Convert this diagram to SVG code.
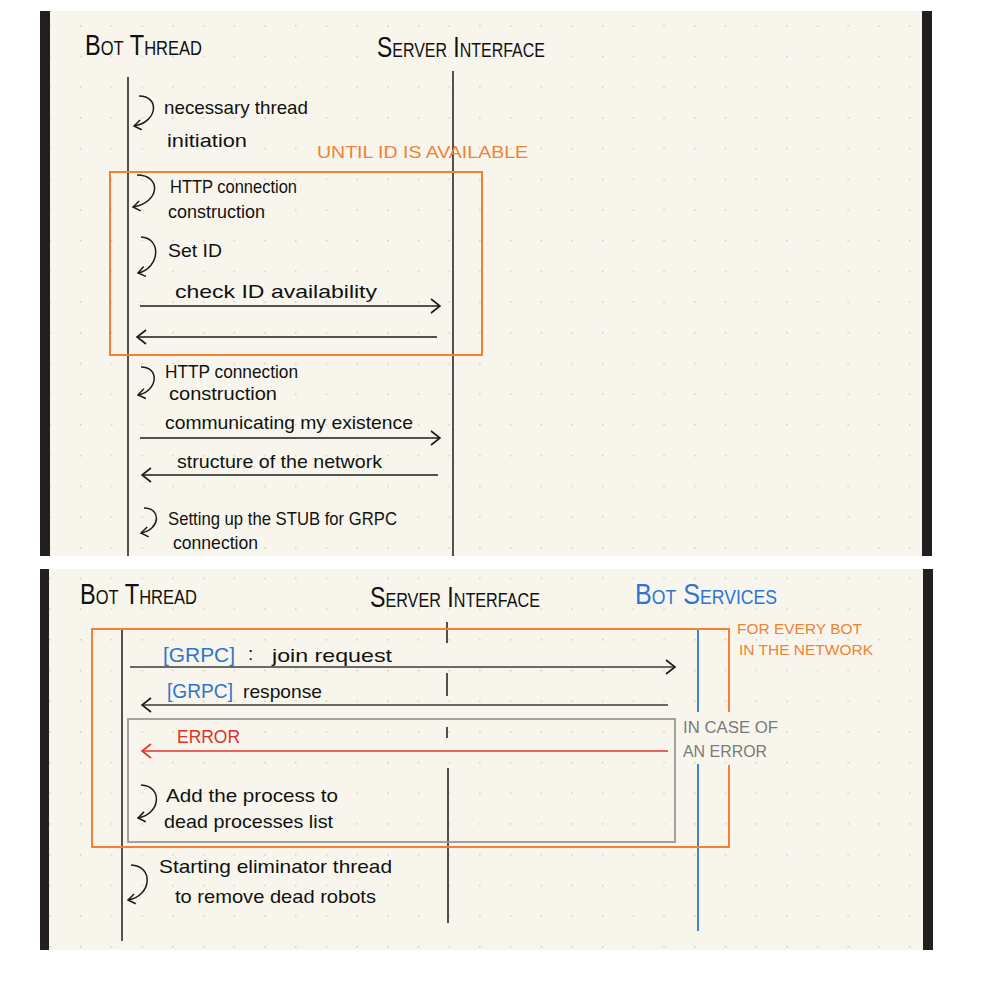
<svg xmlns="http://www.w3.org/2000/svg" width="1000" height="1000" viewBox="0 0 1000 1000">
<defs>
<style>
.paper{fill:#F8F6EC}
.bar{fill:#231F20}
.life{stroke:#1a1a1a;stroke-width:1.5;fill:none}
.msg{stroke:#1a1a1a;stroke-width:1.5;fill:none}
.msg2{stroke:#3a3a3a;stroke-width:1.5;fill:none}
.err{stroke:#E0302A;stroke-width:1.5;fill:none}
.loop{stroke:#1a1a1a;stroke-width:1.5;fill:none}
.frameO{stroke:#F08232;stroke-width:2;fill:none}
.frameG{stroke:#9a9a9a;stroke-width:1.8;fill:none}
text{font-family:"Liberation Sans",Arial,sans-serif}
.t{font-size:19px;fill:#111}
.h{font-size:30px;font-variant:small-caps;fill:#111}
.hb{font-size:30px;font-variant:small-caps;fill:#2F74D0}
.o{font-size:17px;fill:#F08232}
.os{font-size:15px;fill:#F08232}
.g{font-size:16px;fill:#7a7a7a}
.b{font-size:21px;fill:#2F74D0}
.r{font-size:19px;fill:#E0302A}
</style>
<pattern id="dots" x="80" y="25" width="30.7" height="30.7" patternUnits="userSpaceOnUse">
<circle cx="0.8" cy="0.8" r="0.9" fill="#cfcdc4"/>
</pattern>
<marker id="ah" viewBox="0 0 10 14" refX="9" refY="7" markerWidth="10" markerHeight="14" markerUnits="userSpaceOnUse" orient="auto" overflow="visible">
<path d="M0,0 L9,7 L0,14" fill="none" stroke="#1a1a1a" stroke-width="1.6"/>
</marker>
<marker id="ahr" viewBox="0 0 10 14" refX="9" refY="7" markerWidth="10" markerHeight="14" markerUnits="userSpaceOnUse" orient="auto" overflow="visible">
<path d="M0,0 L9,7 L0,14" fill="none" stroke="#E0302A" stroke-width="1.6"/>
</marker>
<marker id="lh" viewBox="0 0 8 10" refX="7" refY="5" markerWidth="8" markerHeight="10" markerUnits="userSpaceOnUse" orient="auto" overflow="visible">
<path d="M0,0 L7,5 L0,10" fill="none" stroke="#1a1a1a" stroke-width="1.5"/>
</marker>
</defs>

<rect width="1000" height="1000" fill="#ffffff"/>

<!-- Panel 1 -->
<g id="panel1">
<rect class="paper" x="40" y="11" width="892" height="545"/>
<rect x="40" y="11" width="892" height="545" fill="url(#dots)"/>
<rect class="bar" x="40" y="11" width="10" height="545"/>
<rect class="bar" x="922" y="11" width="10" height="545"/>
</g>

<!-- Panel 2 -->
<g id="panel2">
<rect class="paper" x="40" y="569" width="893" height="381"/>
<rect x="40" y="569" width="893" height="381" fill="url(#dots)"/>
<rect class="bar" x="40" y="569" width="9" height="381"/>
<rect class="bar" x="923" y="569" width="10" height="381"/>
</g>

<!-- Panel 1 participants -->
<g id="p1-bot-thread">
<text class="h" x="85" y="55" textLength="117" lengthAdjust="spacingAndGlyphs">Bot Thread</text>
<line class="life" x1="128" y1="77" x2="128" y2="556"/>
</g>
<g id="p1-server-interface">
<text class="h" x="377" y="57" textLength="168" lengthAdjust="spacingAndGlyphs">Server Interface</text>
<line class="life" x1="453" y1="71" x2="453" y2="556"/>
</g>

<!-- Panel 1 loop frame -->
<g id="p1-until-frame">
<rect class="frameO" x="110" y="172" width="372" height="183"/>
<text class="o" x="317" y="158" textLength="211" lengthAdjust="spacingAndGlyphs">UNTIL ID IS AVAILABLE</text>
</g>

<!-- Panel 1 self steps -->
<g id="p1-step-init">
<text class="t" x="164" y="114" textLength="144" lengthAdjust="spacingAndGlyphs">necessary thread</text>
<text class="t" x="167" y="147" textLength="80" lengthAdjust="spacingAndGlyphs">initiation</text>
</g>
<g id="p1-step-http1">
<text class="t" x="170" y="193" textLength="127" lengthAdjust="spacingAndGlyphs">HTTP connection</text>
<text class="t" x="168" y="218" textLength="97" lengthAdjust="spacingAndGlyphs">construction</text>
</g>
<g id="p1-step-setid">
<text class="t" x="168" y="257" textLength="54" lengthAdjust="spacingAndGlyphs">Set ID</text>
</g>
<g id="p1-step-http2">
<text class="t" x="165" y="378" textLength="133" lengthAdjust="spacingAndGlyphs">HTTP connection</text>
<text class="t" x="169" y="400" textLength="108" lengthAdjust="spacingAndGlyphs">construction</text>
</g>
<g id="p1-step-stub">
<text class="t" x="168" y="525" textLength="229" lengthAdjust="spacingAndGlyphs">Setting up the STUB for GRPC</text>
<text class="t" x="173" y="549" textLength="85" lengthAdjust="spacingAndGlyphs">connection</text>
</g>

<!-- Panel 2 participants -->
<g id="p2-bot-thread">
<text class="h" x="80" y="604" textLength="117" lengthAdjust="spacingAndGlyphs">Bot Thread</text>
<line class="life" x1="122" y1="629" x2="122" y2="941"/>
</g>
<g id="p2-server-interface">
<text class="h" x="370" y="607" textLength="170" lengthAdjust="spacingAndGlyphs">Server Interface</text>
<path class="life" d="M447,622 V643 M447,673 V696 M447,727 V738 M448,768 V923"/>
</g>
<g id="p2-bot-services">
<text class="hb" x="635" y="604" textLength="142" lengthAdjust="spacingAndGlyphs">Bot Services</text>
<path d="M698,629 V712 M698,764 V931" stroke="#2F74D0" stroke-width="1.8" fill="none"/>
</g>

<!-- Panel 2 frames -->
<g id="p2-every-bot-frame">
<path class="frameO" d="M729,712 V629 H92 V847 H729 V765"/>
<text class="os" x="737" y="634" textLength="125" lengthAdjust="spacingAndGlyphs">FOR EVERY BOT</text>
<text class="os" x="739" y="655" textLength="134" lengthAdjust="spacingAndGlyphs">IN THE NETWORK</text>
</g>
<g id="p2-error-frame">
<rect class="frameG" x="128" y="719" width="547" height="123"/>
<text class="g" x="683" y="733" textLength="95" lengthAdjust="spacingAndGlyphs">IN CASE OF</text>
<text class="g" x="683" y="757" textLength="84" lengthAdjust="spacingAndGlyphs">AN ERROR</text>
</g>

<!-- Panel 2 self steps -->
<g id="p2-step-dead">
<text class="t" x="166" y="802" textLength="172" lengthAdjust="spacingAndGlyphs">Add the process to</text>
<text class="t" x="164" y="828" textLength="169" lengthAdjust="spacingAndGlyphs">dead processes list</text>
</g>
<g id="p2-step-eliminator">
<text class="t" x="159" y="873" textLength="233" lengthAdjust="spacingAndGlyphs">Starting eliminator thread</text>
<text class="t" x="175" y="903" textLength="201" lengthAdjust="spacingAndGlyphs">to remove dead robots</text>
</g>

<!-- Connectors -->
<g id="connectors">
<!-- self loops -->
<path class="loop" marker-end="url(#lh)" d="M139,96 C160,96 158,122 134,126"/>
<path class="loop" marker-end="url(#lh)" d="M137,175 C162,175 160,203 133,207"/>
<path class="loop" marker-end="url(#lh)" d="M141,237 C162,238 160,268 138,273"/>
<path class="loop" marker-end="url(#lh)" d="M141,367 C160,367 158,391 138,395"/>
<path class="loop" marker-end="url(#lh)" d="M144,508 C162,508 160,530 141,533"/>
<path class="loop" marker-end="url(#lh)" d="M141,785 C163,786 161,814 138,818"/>
<path class="loop" marker-end="url(#lh)" d="M131,865 C154,866 152,896 128,900"/>

<!-- panel 1 messages -->
<g id="msg-check-id">
<path class="msg" marker-end="url(#ah)" d="M140,306 H440"/>
<text class="t" x="175" y="298" textLength="202" lengthAdjust="spacingAndGlyphs">check ID availability</text>
</g>
<path id="msg-check-id-reply" class="msg" marker-end="url(#ah)" d="M437,337 H137"/>
<g id="msg-existence">
<path class="msg" marker-end="url(#ah)" d="M140,438 H440"/>
<text class="t" x="165" y="429" textLength="248" lengthAdjust="spacingAndGlyphs">communicating my existence</text>
</g>
<g id="msg-structure">
<path class="msg" marker-end="url(#ah)" d="M438,475 H142"/>
<text class="t" x="177" y="468" textLength="205" lengthAdjust="spacingAndGlyphs">structure of the network</text>
</g>

<!-- panel 2 messages -->
<g id="msg-join">
<path class="msg2" marker-end="url(#ah)" d="M130,667 H675"/>
<text class="b" x="163" y="662" textLength="72" lengthAdjust="spacingAndGlyphs">[GRPC]</text>
<text class="t" x="248" y="660">:</text>
<text class="t" x="272" y="662" textLength="120" lengthAdjust="spacingAndGlyphs">join request</text>
</g>
<g id="msg-response">
<path class="msg2" marker-end="url(#ah)" d="M668,705 H142"/>
<text class="b" x="167" y="698" textLength="66" lengthAdjust="spacingAndGlyphs">[GRPC]</text>
<text class="t" x="243" y="698" textLength="79" lengthAdjust="spacingAndGlyphs">response</text>
</g>
<g id="msg-error">
<path class="err" marker-end="url(#ahr)" d="M668,751 H142"/>
<text class="r" x="177" y="743" textLength="63" lengthAdjust="spacingAndGlyphs">ERROR</text>
</g>
</g>
</svg>
